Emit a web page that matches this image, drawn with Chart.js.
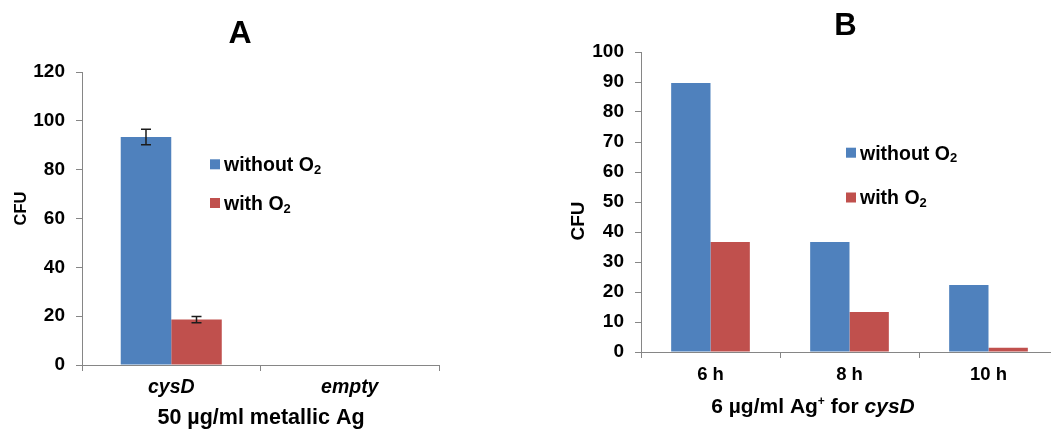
<!DOCTYPE html>
<html>
<head>
<meta charset="utf-8">
<script src="https://cdn.jsdelivr.net/npm/chart.js@4.4.1/dist/chart.umd.min.js"></script>
<style>
  html, body { margin: 0; padding: 0; background: #fff; overflow: hidden; width: 1051px; height: 429px; position: relative; }
  canvas { position: absolute; top: 0; }
  #panelA { left: 0; }
  #panelB { left: 520px; }
</style>
</head>
<body>
<canvas id="panelA" width="520" height="429"></canvas>
<canvas id="panelB" width="545" height="429"></canvas>
<script>
// Panel A: 50 µg/ml metallic Ag
const categoriesA = ['cysD', 'empty'];
const withoutO2A = [93.4, 0];
const withO2A = [18.6, 0];
const withoutO2ErrA = [3.2, 0];
const withO2ErrA = [1.3, 0];
const yTicksA = [0, 120, 20];   // min, max, step

// Panel B: 6 µg/ml Ag+ for cysD over time
const categoriesB = ['6 h', '8 h', '10 h'];
const withoutO2B = [89.7, 36.7, 22.3];
const withO2B = [36.7, 13.3, 1.4];
const yTicksB = [0, 100, 10];

const seriesLabels = ['without O₂', 'with O₂'];

const FONT = '"Liberation Sans", Arial, Helvetica, sans-serif';
const BLUE = '#4F81BD';
const RED = '#C0504D';
const AXIS = '#868686';
const INK = '#000000';

function fontStr(r) { return (r.style || 'bold') + ' ' + r.size + 'px ' + FONT; }

// draws a sequence of differently styled text pieces on one baseline
function drawRuns(ctx, runs, x, baseline, align) {
  const widths = runs.map(r => { ctx.font = fontStr(r); return ctx.measureText(r.text).width; });
  const total = widths.reduce((a, b) => a + b, 0);
  let cx = align === 'center' ? x - total / 2 : x;
  ctx.textAlign = 'left';
  ctx.textBaseline = 'alphabetic';
  ctx.fillStyle = INK;
  runs.forEach((r, i) => {
    ctx.font = fontStr(r);
    ctx.fillText(r.text, cx, baseline + (r.dy || 0));
    cx += widths[i];
  });
}

// splits "O₂" style labels into a normal run and a small lowered "2"
function subscriptRuns(label, size) {
  const parts = label.split('₂');
  const runs = [];
  parts.forEach((p, i) => {
    if (p) runs.push({ text: p, size: size });
    if (i < parts.length - 1) runs.push({ text: '2', size: Math.round(size * 0.66), dy: size * 0.14 });
  });
  return runs;
}

// free text: panel letter, axis titles
const panelText = {
  id: 'panelText',
  afterDraw(chart, args, opts) {
    const ctx = chart.ctx;
    (opts.items || []).forEach(item => {
      const maxSize = Math.max.apply(null, item.runs.map(r => r.size));
      ctx.save();
      ctx.translate(item.x, item.y);
      if (item.rotate) ctx.rotate(item.rotate);
      drawRuns(ctx, item.runs, 0, 0.358 * maxSize, 'center');
      ctx.restore();
    });
  }
};

// square-swatch legend placed inside the plot
const boxLegend = {
  id: 'boxLegend',
  afterDraw(chart, args, o) {
    const ctx = chart.ctx;
    chart.data.datasets.forEach((ds, i) => {
      const yc = o.y[i];
      ctx.save();
      ctx.fillStyle = ds.backgroundColor;
      ctx.fillRect(o.x, yc - 5, 10, 10);
      drawRuns(ctx, subscriptRuns(ds.label, o.size), o.x + 14, yc + 0.358 * o.size, 'left');
      ctx.restore();
    });
  }
};

// symmetric error bars with caps
const errorBars = {
  id: 'errorBars',
  afterDatasetsDraw(chart) {
    const ctx = chart.ctx;
    const y = chart.scales.y;
    chart.data.datasets.forEach((ds, i) => {
      if (!ds.errors) return;
      chart.getDatasetMeta(i).data.forEach((bar, j) => {
        const e = ds.errors[j];
        if (!e) return;
        const v = ds.data[j];
        const top = y.getPixelForValue(v + e);
        const bot = y.getPixelForValue(v - e);
        ctx.save();
        ctx.strokeStyle = '#1c1c1c';
        ctx.lineWidth = 1.5;
        ctx.beginPath();
        ctx.moveTo(bar.x, top); ctx.lineTo(bar.x, bot);
        ctx.moveTo(bar.x - 5, top); ctx.lineTo(bar.x + 5, top);
        ctx.moveTo(bar.x - 5, bot); ctx.lineTo(bar.x + 5, bot);
        ctx.stroke();
        ctx.restore();
      });
    });
  }
};

function makePanel(id, cfg) {
  return new Chart(document.getElementById(id), {
    type: 'bar',
    data: {
      labels: cfg.labels,
      datasets: [
        { label: seriesLabels[0], data: cfg.without, errors: cfg.withoutErr, backgroundColor: BLUE,
          categoryPercentage: 0.566, barPercentage: 1, borderWidth: 0 },
        { label: seriesLabels[1], data: cfg.with, errors: cfg.withErr, backgroundColor: RED,
          categoryPercentage: 0.566, barPercentage: 1, borderWidth: 0 }
      ]
    },
    options: {
      responsive: false,
      animation: false,
      events: [],
      layout: { padding: cfg.padding },
      plugins: {
        legend: { display: false },
        tooltip: { enabled: false },
        title: { display: false },
        panelText: { items: cfg.texts },
        boxLegend: cfg.legend
      },
      scales: {
        x: {
          offset: true,
          grid: { offset: true, drawOnChartArea: false, drawTicks: true, tickLength: 6, color: AXIS, lineWidth: 1 },
          border: { display: true, color: AXIS, width: 1 },
          ticks: { color: INK, padding: cfg.xPad, font: cfg.xFont, maxRotation: 0, autoSkip: false },
          afterFit: s => { s.height = cfg.xHeight; }
        },
        y: {
          min: cfg.yTicks[0],
          max: cfg.yTicks[1],
          grid: { drawOnChartArea: false, drawTicks: true, tickLength: 6, color: AXIS, lineWidth: 1 },
          border: { display: true, color: AXIS, width: 1 },
          ticks: { stepSize: cfg.yTicks[2], color: INK, padding: 11, font: { family: FONT, size: 19, weight: 'bold' } },
          afterFit: s => { s.width = cfg.yWidth; }
        }
      }
    },
    plugins: [errorBars, boxLegend, panelText]
  });
}

makePanel('panelA', {
  labels: categoriesA,
  without: withoutO2A,
  with: withO2A,
  withoutErr: withoutO2ErrA,
  withErr: withO2ErrA,
  yTicks: yTicksA,
  padding: { top: 72, right: 81, left: 0, bottom: 0 },
  yWidth: 82,
  xHeight: 64,
  xPad: 5,
  xFont: { family: FONT, size: 19.5, weight: 'bold', style: 'italic' },
  legend: { x: 210, y: [164.3, 203], size: 19.5 },
  texts: [
    { x: 240, y: 31.5, runs: [{ text: 'A', size: 32 }] },
    { x: 20, y: 208.5, rotate: -Math.PI / 2, runs: [{ text: 'CFU', size: 16.5 }] },
    { x: 261, y: 416, runs: [{ text: '50 µg/ml metallic Ag', size: 21.5 }] }
  ]
});

makePanel('panelB', {
  labels: categoriesB,
  without: withoutO2B,
  with: withO2B,
  yTicks: yTicksB,
  padding: { top: 52, right: 7, left: 0, bottom: 0 },
  yWidth: 121,
  xHeight: 77,
  xPad: 6,
  xFont: { family: FONT, size: 18.5, weight: 'bold' },
  legend: { x: 326, y: [152.7, 197.5], size: 19.5 },
  texts: [
    { x: 325.5, y: 24, runs: [{ text: 'B', size: 31 }] },
    { x: 57.5, y: 221, rotate: -Math.PI / 2, runs: [{ text: 'CFU', size: 19 }] },
    { x: 293, y: 405.5, runs: [
      { text: '6 µg/ml Ag', size: 21 },
      { text: '+', size: 12, dy: -8 },
      { text: ' for ', size: 21 },
      { text: 'cysD', size: 21, style: 'italic bold' }
    ] }
  ]
});
</script>
</body>
</html>
